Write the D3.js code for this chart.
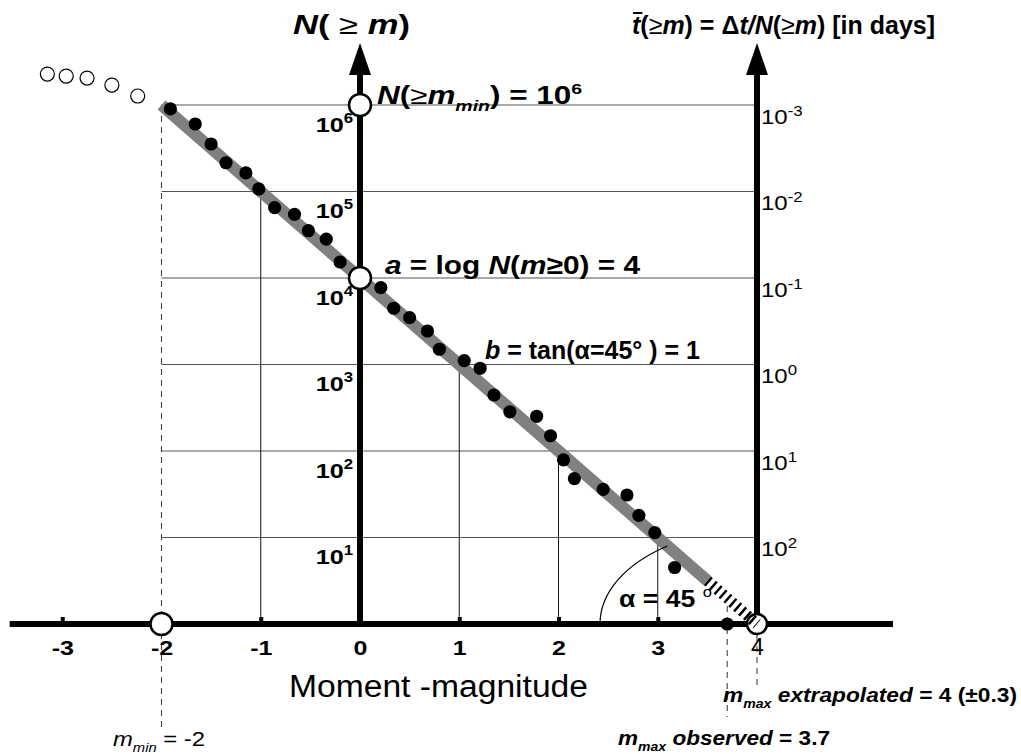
<!DOCTYPE html>
<html>
<head>
<meta charset="utf-8">
<script src="https://cdn.jsdelivr.net/npm/d3@7"></script>
<style>
  html, body { margin: 0; padding: 0; background: #fff; }
  svg { display: block; font-family: "Liberation Sans", Arial, Helvetica, sans-serif; }
  text { white-space: pre; }
</style>
</head>
<body>
<svg id="chart" width="1021" height="754"></svg>
<script>
// ---- Observed catalogue: moment magnitude and cumulative count N(>=m) ----
const magnitudes = [-1.91, -1.66, -1.50, -1.35, -1.15, -1.02, -0.86, -0.66, -0.52, -0.34,
                    -0.20, 0.21, 0.34, 0.50, 0.68, 0.80, 1.05, 1.21, 1.35, 1.51,
                    1.78, 1.92, 2.05, 2.16, 2.45, 2.69, 2.81, 2.97, 3.17];
const counts = [900000, 603000, 354000, 215000, 164000, 107000, 65000, 54500, 35200, 28200,
                15300, 7730, 4470, 3480, 2440, 1500, 1110, 904, 444, 284,
                252, 150, 79, 48, 36, 31, 18, 11.4, 4.5];

// events below the completeness magnitude (open symbols)
const lowMagnitudes = [-3.15, -2.96, -2.75, -2.50, -2.24];
const lowCounts = [2280000, 2160000, 2050000, 1700000, 1270000];

// Gutenberg-Richter parameters and characteristic magnitudes
const aValue = 4;
const bValue = 1;
const mMin = -2;
const mMaxObserved = 3.7;
const mMaxExtrapolated = 4;
const deltaT = 1000;            // observation period, days

// axes content
const xTickValues = [-3, -2, -1, 0, 1, 2, 3, 4];
const countTicks = [10, 100, 1e3, 1e4, 1e5, 1e6];
const recurrenceTicks = [1e-3, 1e-2, 1e-1, 1, 10, 100];
const dropMagnitudes = [-1, 1, 2, 3];
const axisMagExtent = [-3.53, 5.37];
const arrowTopCount = 5.2e6;
const fitSolidEnd = 3.5;

// ---- scales ----
const x = d3.scaleLinear().domain([0, 4]).range([360, 757]);
const y = d3.scaleLog().domain([1, 1e6]).range([624, 105]);
const tScale = d3.scaleLog().domain([deltaT / 1, deltaT / 1e6]).range([624, 105]);
const fitN = m => Math.pow(10, aValue - bValue * m);

const svg = d3.select("#chart");
const y0 = y(1);

function stretch(sel, factor) {
  sel.each(function () {
    const w = this.getComputedTextLength();
    d3.select(this).attr("textLength", w * factor).attr("lengthAdjust", "spacingAndGlyphs");
  });
}

function richText(parent, s) {
  const t = parent.append("text")
    .attr("x", s.x).attr("y", s.y)
    .attr("font-size", s.size)
    .attr("font-weight", s.weight || "normal")
    .attr("text-anchor", s.anchor || "start")
    .attr("fill", "#000");
  let shift = 0;
  s.segs.forEach(([str, flags = ""]) => {
    const f = flags.split(" ");
    const sp = t.append("tspan").text(str);
    let target = 0;
    if (f.includes("sub")) { sp.attr("font-size", s.size * 0.62); target = s.size * 0.28; }
    if (f.includes("sup")) { sp.attr("font-size", s.size * 0.62); target = -s.size * 0.42; }
    if (target !== shift) { sp.attr("dy", target - shift); shift = target; }
    if (f.includes("i")) sp.attr("font-style", "italic");
    if (f.includes("n")) sp.attr("font-weight", "normal");
  });
  if (s.width) t.attr("textLength", s.width).attr("lengthAdjust", "spacingAndGlyphs");
  return t;
}

// ---- horizontal decade grid ----
svg.append("g").selectAll("line").data(countTicks).join("line")
  .attr("x1", x(mMin)).attr("x2", x(mMaxExtrapolated))
  .attr("y1", d => y(d)).attr("y2", d => y(d))
  .attr("stroke", "#555").attr("stroke-width", 1.2);

// ---- vertical drop lines from the fit at whole magnitudes ----
svg.append("g").selectAll("line").data(dropMagnitudes).join("line")
  .attr("x1", d => x(d)).attr("x2", d => x(d))
  .attr("y1", d => y(fitN(d))).attr("y2", y0)
  .attr("stroke", "#111").attr("stroke-width", 1);

// ---- dashed guides to the magnitude annotations ----
const guides = [
  { m: mMin, top: y(fitN(mMin)), bottom: 727 },
  { m: mMaxObserved, top: y(fitN(mMaxObserved)) + 8, bottom: 717 },
  { m: mMaxExtrapolated, top: y0 + 11, bottom: 690 }
];
svg.append("g").selectAll("line").data(guides).join("line")
  .attr("x1", d => x(d.m)).attr("x2", d => x(d.m))
  .attr("y1", d => d.top).attr("y2", d => d.bottom)
  .attr("stroke", "#444").attr("stroke-width", 1.1)
  .attr("stroke-dasharray", "6,5");

// ---- Gutenberg-Richter fit line ----
const fitLine = d3.line().x(d => x(d)).y(d => y(fitN(d)));
svg.append("path")
  .attr("d", fitLine([mMin, fitSolidEnd]))
  .attr("fill", "none").attr("stroke", "#808080").attr("stroke-width", 12);

// ---- angle arc for alpha ----
const cx = x(mMaxExtrapolated), cy = y0;
const rx = 157, ry = 95;
const ux = x(mMaxExtrapolated) - x(mMaxExtrapolated - 1);
const uy = y(10) - y(1);
const s = 1 / Math.sqrt((ux / rx) ** 2 + (uy / ry) ** 2);
svg.append("path")
  .attr("d", `M${cx - rx},${cy} A${rx},${ry} 0 0,1 ${cx - ux * s},${cy + uy * s}`)
  .attr("fill", "none").attr("stroke", "#000").attr("stroke-width", 1.2);

// ---- x axis (moment magnitude) ----
svg.append("line")
  .attr("x1", x(axisMagExtent[0])).attr("x2", x(axisMagExtent[1]))
  .attr("y1", y0).attr("y2", y0)
  .attr("stroke", "#000").attr("stroke-width", 6);

const gx = svg.append("g").attr("transform", `translate(0,${y0})`)
  .call(d3.axisBottom(x).tickValues(xTickValues).tickSize(-7).tickFormat(d => String(d)));
gx.select(".domain").remove();
gx.selectAll(".tick line").attr("stroke", "#000").attr("stroke-width", 4);
gx.selectAll(".tick text")
  .attr("y", 31).attr("dy", 0).attr("fill", "#000")
  .attr("font-family", null)
  .attr("font-size", d => d === 4 ? 23 : 20)
  .attr("font-weight", d => d === 4 ? "normal" : "bold");
stretch(gx.selectAll(".tick text").filter(d => d !== 4), 1.25);

// ---- vertical axes with arrows ----
const arrowTip = y(arrowTopCount);
[0, mMaxExtrapolated].forEach(m => {
  svg.append("line")
    .attr("x1", x(m)).attr("x2", x(m))
    .attr("y1", y0 + 3).attr("y2", arrowTip + 25)
    .attr("stroke", "#000").attr("stroke-width", 6);
  svg.append("path")
    .attr("d", `M${x(m)},${arrowTip} L${x(m) + 11},${arrowTip + 32} L${x(m) - 11},${arrowTip + 32} Z`)
    .attr("fill", "#000");
});

// N(>=m) tick labels
const gy = svg.append("g").attr("transform", `translate(${x(0)},0)`)
  .call(d3.axisLeft(y).tickValues(countTicks).tickSize(0).tickFormat(""));
gy.select(".domain").remove();
gy.selectAll(".tick text").each(function (d) {
  const t = d3.select(this)
    .attr("x", -7).attr("y", 26).attr("dy", 0)
    .attr("text-anchor", "end").attr("fill", "#000")
    .attr("font-family", null).attr("font-size", 21).attr("font-weight", "bold");
  t.append("tspan").text("10");
  t.append("tspan").text(String(Math.round(Math.log10(d))))
    .attr("font-size", 14).attr("dy", -9);
});
stretch(gy.selectAll(".tick text"), 1.2);

// recurrence time tick labels
const gt = svg.append("g").attr("transform", `translate(${x(mMaxExtrapolated)},0)`)
  .call(d3.axisRight(tScale).tickValues(recurrenceTicks).tickSize(0).tickFormat(""));
gt.select(".domain").remove();
gt.selectAll(".tick text").each(function (d) {
  const t = d3.select(this)
    .attr("x", 4).attr("y", 18).attr("dy", 0)
    .attr("text-anchor", "start").attr("fill", "#000")
    .attr("font-family", null).attr("font-size", 20).attr("font-weight", "normal");
  t.append("tspan").text("10");
  t.append("tspan").text(String(Math.round(Math.log10(d))))
    .attr("font-size", 14).attr("dy", -8);
});
stretch(gt.selectAll(".tick text"), 1.2);

// ---- reference markers (open circles) ----
const markers = [
  { m: mMin, n: 1, r: 11 },
  { m: 0, n: 1e6, r: 11 },
  { m: 0, n: Math.pow(10, aValue), r: 11 },
  { m: mMaxExtrapolated, n: 1, r: 10 }
];
svg.append("g").selectAll("circle").data(markers).join("circle")
  .attr("cx", d => x(d.m)).attr("cy", d => y(d.n)).attr("r", d => d.r)
  .attr("fill", "#fff").attr("stroke", "#000").attr("stroke-width", 2.5);

// ---- extrapolated part of the fit (hatched) ----
svg.append("path")
  .attr("d", fitLine([fitSolidEnd, mMaxExtrapolated]))
  .attr("fill", "none").attr("stroke", "#000").attr("stroke-width", 11)
  .attr("stroke-dasharray", "2.5,4");

// ---- events below completeness ----
svg.append("g").selectAll("circle").data(lowMagnitudes).join("circle")
  .attr("cx", d => x(d)).attr("cy", (d, i) => y(lowCounts[i])).attr("r", 7)
  .attr("fill", "#fff").attr("stroke", "#000").attr("stroke-width", 1.2);

// ---- observed events ----
svg.append("g").selectAll("circle").data(magnitudes).join("circle")
  .attr("cx", d => x(d)).attr("cy", (d, i) => y(counts[i])).attr("r", 6.6)
  .attr("fill", "#000");
svg.append("circle")
  .attr("cx", x(mMaxObserved)).attr("cy", y0).attr("r", 6.6).attr("fill", "#000");

// ---- titles and annotations ----
const labels = svg.append("g");
richText(labels, { x: 293, y: 34, size: 27, weight: "bold", width: 117,
  segs: [["N", "i"], ["( "], ["≥", "n"], [" "], ["m", "i"], [")"]] });

const rTitle = richText(labels, { x: 632, y: 34, size: 26, weight: "bold", width: 303,
  segs: [["t", "i"], ["("], ["≥", "n"], ["m", "i"], [") = Δ"], ["t/N", "i"], ["("], ["≥", "n"], ["m", "i"], [") [in days]"]] });
{
  const ext = rTitle.node().getExtentOfChar(0);
  labels.append("line")
    .attr("x1", ext.x + 1).attr("x2", ext.x + ext.width + 2)
    .attr("y1", 13).attr("y2", 13)
    .attr("stroke", "#000").attr("stroke-width", 2);
}

richText(labels, { x: 377, y: 104, size: 25, weight: "bold", width: 205,
  segs: [["N", "i"], ["("], ["≥", "n"], ["m", "i"], ["min", "i sub"], [") = 10"], ["6", "sup"]] });

richText(labels, { x: 385, y: 274, size: 26, weight: "bold", width: 255,
  segs: [["a", "i"], [" = log "], ["N", "i"], ["("], ["m", "i"], ["≥0) = 4"]] });

richText(labels, { x: 485, y: 359, size: 26, weight: "bold", width: 215,
  segs: [["b", "i"], [" = tan(α=45° ) = 1"]] });

richText(labels, { x: 619, y: 607, size: 24, weight: "bold", width: 93,
  segs: [["α = 45 "], ["o", "sup n"]] });

richText(labels, { x: 289, y: 697, size: 31, weight: "normal", width: 299,
  segs: [["Moment -magnitude"]] });

richText(labels, { x: 113, y: 746, size: 21, weight: "normal", width: 92,
  segs: [["m", "i"], ["min", "i sub"], [" = -2"]] });

richText(labels, { x: 723, y: 702, size: 21, weight: "bold", width: 294,
  segs: [["m", "i"], ["max", "i sub"], [" extrapolated", "i"], [" = 4 (±0.3)"]] });

richText(labels, { x: 618, y: 745, size: 21, weight: "bold", width: 212,
  segs: [["m", "i"], ["max", "i sub"], [" observed", "i"], [" = 3.7"]] });
</script>
</body>
</html>
